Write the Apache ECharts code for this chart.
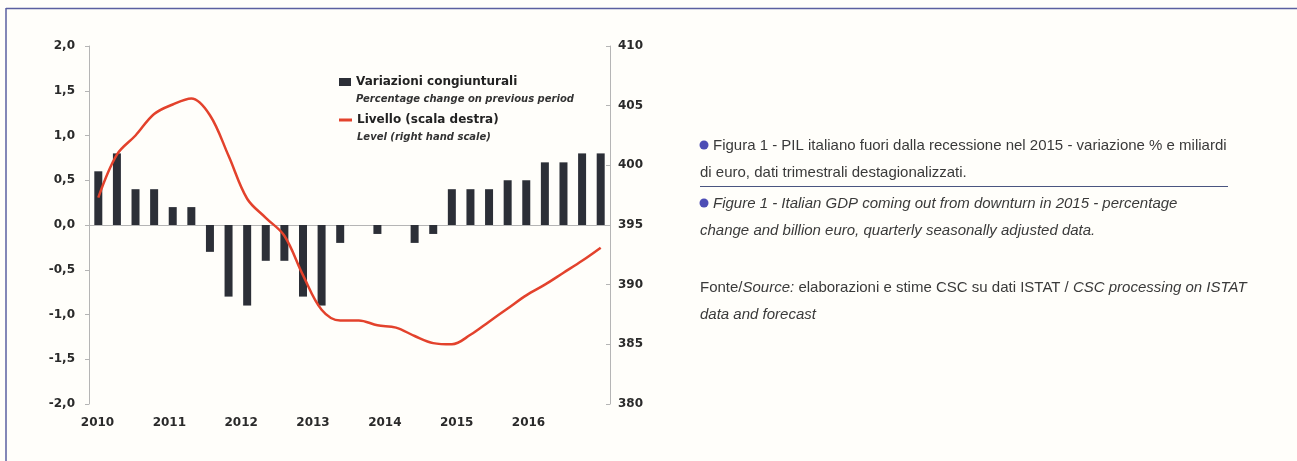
<!DOCTYPE html>
<html>
<head>
<meta charset="utf-8">
<script src="https://cdn.jsdelivr.net/npm/echarts@6/dist/echarts.min.js"></script>
<style>
html,body{margin:0;padding:0;background:#fffefa;}
#chart{width:1297px;height:461px;}
</style>
</head>
<body>
<div id="chart"></div>
<script>
// ---- data ----
const categories = [
  '2010T1','2010T2','2010T3','2010T4',
  '2011T1','2011T2','2011T3','2011T4',
  '2012T1','2012T2','2012T3','2012T4',
  '2013T1','2013T2','2013T3','2013T4',
  '2014T1','2014T2','2014T3','2014T4',
  '2015T1','2015T2','2015T3','2015T4',
  '2016T1','2016T2','2016T3','2016T4'
];
const yearLabels = ['2010','2011','2012','2013','2014','2015','2016'];
const variazioni = [0.6,0.8,0.4,0.4, 0.2,0.2,-0.3,-0.8, -0.9,-0.4,-0.4,-0.8,
                    -0.9,-0.2,0.0,-0.1, 0.0,-0.2,-0.1,0.4, 0.4,0.4,0.5,0.5, 0.7,0.7,0.8,0.8];
const livello = [397.3,400.9,402.5,404.3, 405.1,405.6,404.2,400.8, 397.2,395.6,394.1,390.8,
                 387.9,387.0,387.0,386.6, 386.4,385.7,385.1,385.0, 385.8,386.9,388.0,389.1,
                 390.0,391.0,392.0,393.1];
const leftTicks = {min:-2, max:2, interval:0.5};
const rightTicks = {min:380, max:410, interval:5};
const nameBar = 'Variazioni congiunturali';
const subBar = 'Percentage change on previous period';
const nameLine = 'Livello (scala destra)';
const subLine = 'Level (right hand scale)';
const textIt1 = 'Figura 1 - PIL italiano fuori dalla recessione nel 2015 - variazione % e miliardi';
const textIt2 = 'di euro, dati trimestrali destagionalizzati.';
const textEn1 = 'Figure 1 - Italian GDP coming out from downturn in 2015 - percentage';
const textEn2 = 'change and billion euro, quarterly seasonally adjusted data.';
const textSrc1 = 'Fonte/{i|Source:} elaborazioni e stime CSC su dati ISTAT / {i|CSC processing on ISTAT}';
const textSrc2 = 'data and forecast';

const chart = echarts.init(document.getElementById('chart'));
const axisFont = {fontFamily:'DejaVu Sans', fontWeight:'bold', fontSize:12, color:'#2a2a2a'};
const noteFamily = '"Liberation Sans Narrow", "Liberation Sans", sans-serif';
const noteFont = '15px ' + noteFamily;
const noteFontIt = 'italic 15px ' + noteFamily;
const legendRich = {
  pad:{fontSize:10, lineHeight:16, fontFamily:'DejaVu Sans', fontWeight:'bold', fontStyle:'italic'},
  a:{fontSize:12, lineHeight:18, fontFamily:'DejaVu Sans', fontWeight:'bold', color:'#222'},
  b:{fontSize:10, lineHeight:16, fontFamily:'DejaVu Sans', fontWeight:'bold', fontStyle:'italic', color:'#333'}
};

const option = {
  backgroundColor:'#fffefa',
  animation:false,
  grid:[
    {left:89, top:46, width:521, height:358},
    {left:97.5, top:404, width:431, height:1}
  ],
  legend:[
    {
      data:[{name:nameBar, icon:'rect'}],
      left:339, top:60, padding:0, itemWidth:12, itemHeight:8,
      formatter:()=> '{pad| }\n{a|'+nameBar+'}\n{b|'+subBar+'}',
      textStyle:{rich:legendRich}
    },
    {
      data:[{name:nameLine, icon:'rect'}],
      left:339, top:98, padding:0, itemWidth:13, itemHeight:3,
      formatter:()=> '{pad| }\n{a|'+nameLine+'}\n{b|'+subLine+'}',
      textStyle:{rich:legendRich}
    }
  ],
  xAxis:[
    {
      type:'category', data:categories, gridIndex:0,
      axisLine:{onZero:true, onZeroAxisIndex:0, lineStyle:{color:'#b5b5b5', width:1}},
      axisTick:{show:false}, axisLabel:{show:false}, splitLine:{show:false}
    },
    {
      type:'category', data:yearLabels, gridIndex:1, boundaryGap:false,
      axisLine:{show:false}, axisTick:{show:false},
      axisLabel:Object.assign({margin:12, interval:0}, axisFont)
    }
  ],
  yAxis:[
    {
      type:'value', gridIndex:0, min:leftTicks.min, max:leftTicks.max, interval:leftTicks.interval,
      axisLine:{show:true, lineStyle:{color:'#b5b5b5'}},
      axisTick:{show:true, length:4, lineStyle:{color:'#b5b5b5'}},
      splitLine:{show:false},
      axisLabel:Object.assign({margin:14, formatter:v=>v.toFixed(1).replace('.',',')}, axisFont)
    },
    {
      type:'value', gridIndex:0, position:'right', min:rightTicks.min, max:rightTicks.max, interval:rightTicks.interval,
      axisLine:{show:true, lineStyle:{color:'#b5b5b5'}},
      axisTick:{show:true, inside:true, length:4, lineStyle:{color:'#b5b5b5'}},
      splitLine:{show:false},
      axisLabel:Object.assign({margin:8}, axisFont)
    },
    {type:'value', gridIndex:1, show:false, min:0, max:1}
  ],
  series:[
    {
      name:nameBar, type:'bar', xAxisIndex:0, yAxisIndex:0,
      data:variazioni, barWidth:8,
      itemStyle:{color:'#2c2f37'}
    },
    {
      name:nameLine, type:'line', xAxisIndex:0, yAxisIndex:1,
      data:livello, smooth:0.35, showSymbol:false, z:5,
      itemStyle:{color:'#e3422c'},
      lineStyle:{color:'#e3422c', width:2.5}
    }
  ],
  graphic:[
    {type:'line', shape:{x1:6, y1:8.5, x2:1297, y2:8.5}, style:{stroke:'#5a5fa0', lineWidth:1.5}, silent:true},
    {type:'line', shape:{x1:6, y1:8, x2:6, y2:461}, style:{stroke:'#5a5fa0', lineWidth:1.5}, silent:true},
    {type:'circle', shape:{cx:704, cy:145, r:4.5}, style:{fill:'#4d4db5'}},
    {type:'text', left:713, top:138, style:{text:textIt1, font:noteFont, fill:'#3a3a3a'}},
    {type:'text', left:700, top:165, style:{text:textIt2, font:noteFont, fill:'#3a3a3a'}},
    {type:'line', shape:{x1:700, y1:186.5, x2:1228, y2:186.5}, style:{stroke:'#4a5580', lineWidth:1}},
    {type:'circle', shape:{cx:704, cy:203, r:4.5}, style:{fill:'#4d4db5'}},
    {type:'text', left:713, top:196, style:{text:textEn1, font:noteFontIt, fill:'#3a3a3a'}},
    {type:'text', left:700, top:223, style:{text:textEn2, font:noteFontIt, fill:'#3a3a3a'}},
    {type:'text', left:700, top:280, style:{text:textSrc1, font:noteFont, fill:'#3a3a3a',
      rich:{i:{fontStyle:'italic', fontSize:15, fontFamily:noteFamily, fill:'#3a3a3a'}}}},
    {type:'text', left:700, top:307, style:{text:textSrc2, font:noteFontIt, fill:'#3a3a3a'}}
  ]
};
chart.setOption(option);
</script>
</body>
</html>
